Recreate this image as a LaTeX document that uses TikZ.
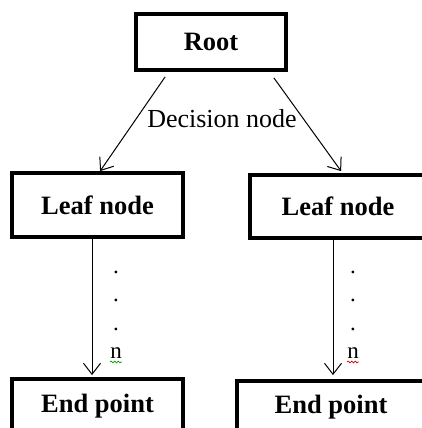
\documentclass[tikz,border=0pt]{standalone}
\usepackage{fontspec}
\setmainfont{Liberation Serif}
\usetikzlibrary{arrows.meta,calc,decorations.pathmorphing}
\begin{document}
\begin{tikzpicture}[x=1pt,y=-1pt,
  box/.style={draw,line width=3.8pt,inner sep=0pt,font=\fontsize{26.5}{30}\selectfont\bfseries},
  arr/.style={line width=1pt,-{Straight Barb[length=11pt,width=17pt,line width=1pt]}},
  lbl/.style={inner sep=0pt,font=\fontsize{26}{30}\selectfont},
  dotlbl/.style={inner sep=0pt,anchor=base,font=\fontsize{23}{26}\selectfont},
  squig/.style={line width=0.7pt,decorate,decoration={snake,amplitude=0.9pt,segment length=3.5pt}}]
\useasboundingbox (0,0) rectangle (422,428);
\fill[white] (0,0) rectangle (422,428);
\clip (0,0) rectangle (422,428);
\node[box,minimum width=150pt,minimum height=56pt] (root) at (211,42) {Root};
\node[box,minimum width=171pt,minimum height=64pt] (leafL) at (97.5,205) {Leaf node};
\node[box,minimum width=176pt,minimum height=63pt] (leafR) at (338,206.5) {Leaf node};
\node[box,minimum width=171pt,minimum height=54pt] (endL) at (97.5,406) {End point};
\node[box,minimum width=188pt,minimum height=52pt] (endR) at (331,407) {End point};
\draw[arr] ($(root.south west)+(31,5)$) -- ($(leafL.north west)+(90,0)$);
\draw[arr] ($(root.south east)+(-14,6)$) -- ($(leafR.north west)+(93,-2)$);
\node[lbl] (dec) at (222,119) {Decision node};
\draw[arr] (leafL.south -| 92,0) -- ($(endL.north -| 92,0)+(0,-2)$);
\draw[arr] (leafR.south -| 333,0) -- ($(endR.north -| 333,0)+(0,-4)$);
\node[dotlbl] (dl1) at (116,273) {.};
\node[dotlbl] (dl2) at (116,301) {.};
\node[dotlbl] (dl3) at (116,330) {.};
\node[dotlbl] (nl) at (116,358) {n};
\draw[squig,green!60!black] ($(nl.base west)+(0,4)$) -- ($(nl.base east)+(0,4)$);
\node[dotlbl] (dr1) at (353,273) {.};
\node[dotlbl] (dr2) at (353,301) {.};
\node[dotlbl] (dr3) at (353,330) {.};
\node[dotlbl] (nr) at (353,358) {n};
\draw[squig,red!80!black] ($(nr.base west)+(0,4)$) -- ($(nr.base east)+(0,4)$);
\end{tikzpicture}
\end{document}
